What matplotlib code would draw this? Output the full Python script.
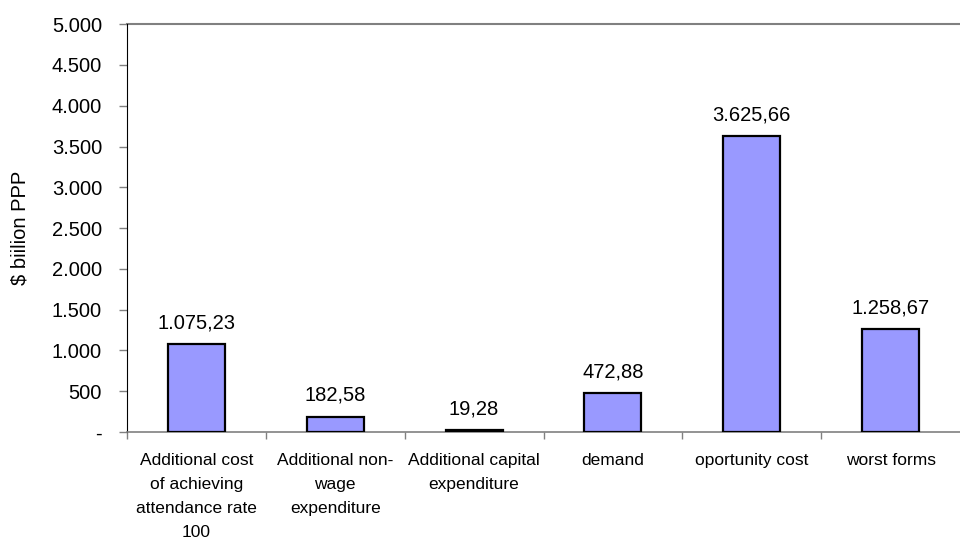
import matplotlib
matplotlib.use('Agg')
import matplotlib.pyplot as plt
from matplotlib.ticker import FuncFormatter

plt.rcParams['font.family'] = ['Liberation Sans', 'DejaVu Sans']

categories = ['Additional cost\nof achieving\nattendance rate\n100',
              'Additional non-\nwage\nexpenditure',
              'Additional capital\nexpenditure',
              'demand',
              'oportunity cost',
              'worst forms']
values = [1075.23, 182.58, 19.28, 472.88, 3625.66, 1258.67]
labels = ['1.075,23', '182,58', '19,28', '472,88', '3.625,66', '1.258,67']
yticks = list(range(0, 5001, 500))


def fmt(v, pos):
    if v == 0:
        return '-'
    return '{:,.0f}'.format(v).replace(',', '.')


fig = plt.figure(figsize=(9.6, 5.38), dpi=100)
ax = fig.add_axes([0.1323, 0.197, 0.8677, 0.758])

x = list(range(len(values)))
ax.bar(x, values, width=0.41, color='#9999FF', edgecolor='black', linewidth=1.6, zorder=3)
for xi, v, t in zip(x, values, labels):
    ax.text(xi, v + 150, t, ha='center', va='bottom', fontsize=14.5)

ax.set_xlim(-0.5, len(values) - 0.5)
ax.set_ylim(0, 5000)
ax.set_yticks(yticks)
ax.yaxis.set_major_formatter(FuncFormatter(fmt))
ax.axhline(5000, color='#808080', linewidth=1.5, clip_on=False)

ax.set_xticks(x)
ax.set_xticklabels(categories, fontsize=12.5, linespacing=1.75, va='top')
ax.tick_params(axis='x', length=0, pad=15)
ax.set_xticks([i + 0.5 for i in x[:-1]] + [-0.5], minor=True)
ax.tick_params(axis='x', which='minor', length=5, color='#808080', width=1)
ax.tick_params(axis='y', length=6, labelsize=14.5, width=1, color='#808080', pad=12)

ax.spines['top'].set_visible(False)
ax.spines['right'].set_visible(False)
ax.spines['left'].set_color('black')
ax.spines['bottom'].set_color('#808080')
ax.spines['bottom'].set_linewidth(1.2)

ax.set_ylabel('$ biilion PPP', fontsize=14.5, labelpad=16)

plt.savefig('out.png', dpi=100)
